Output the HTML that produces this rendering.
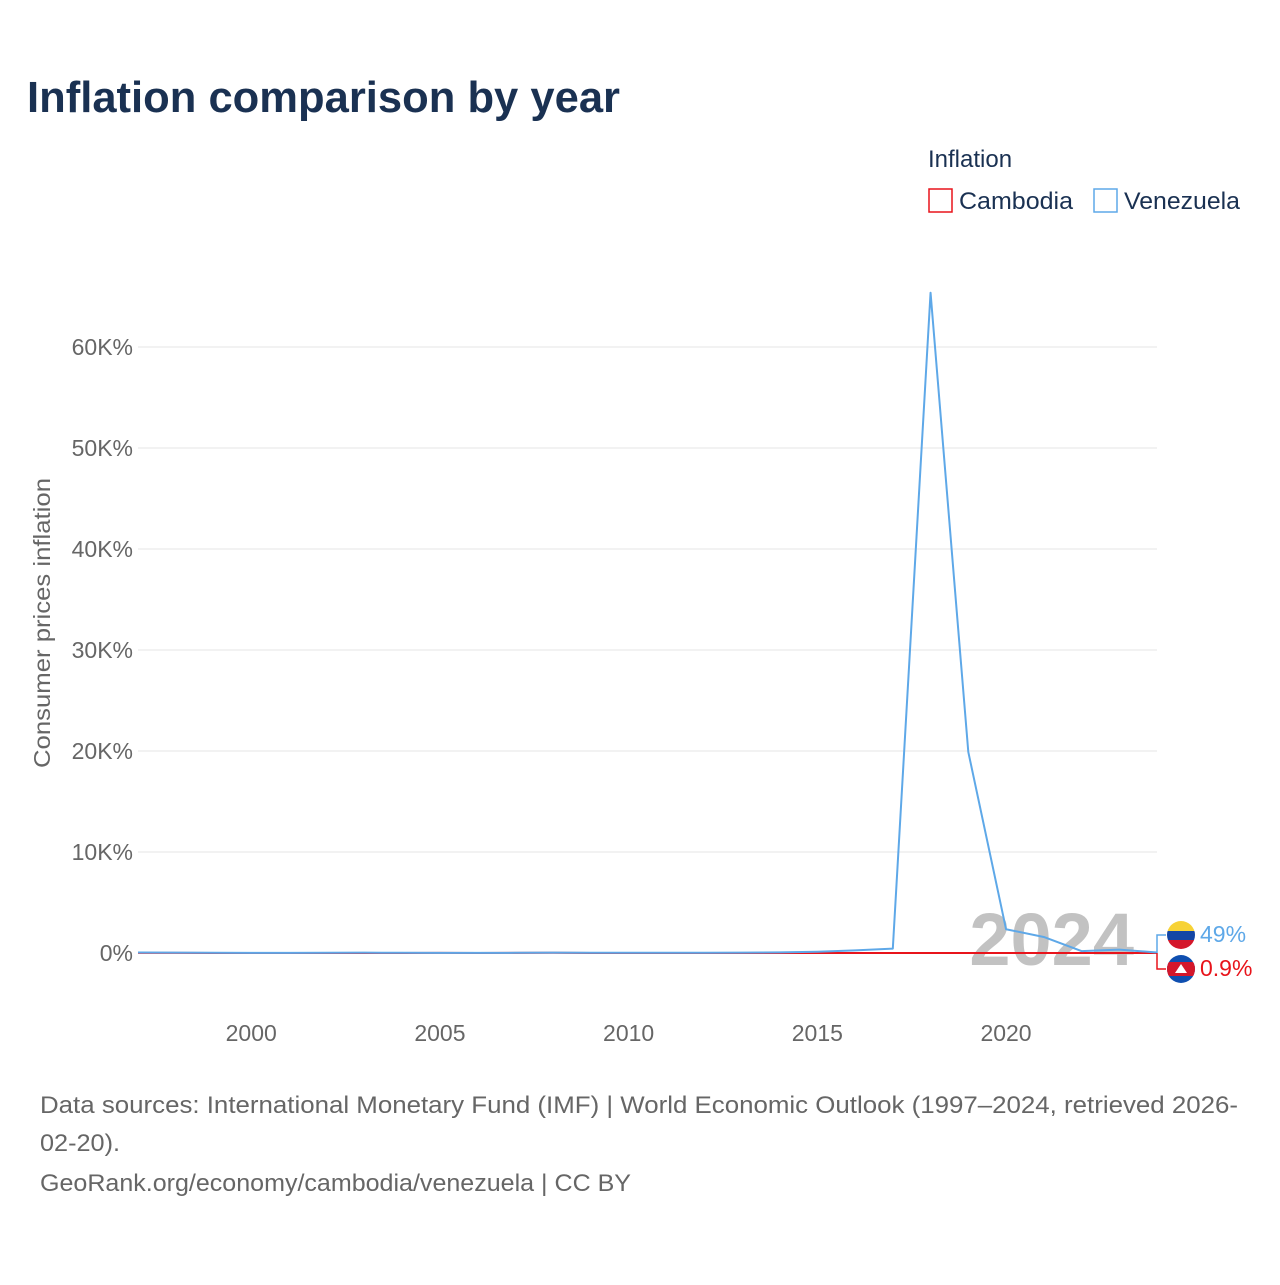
<!DOCTYPE html>
<html><head><meta charset="utf-8"><style>
body{margin:0;background:#fff;font-family:"Liberation Sans",sans-serif;}
</style></head><body>
<svg width="1280" height="1280" xmlns="http://www.w3.org/2000/svg" font-family="Liberation Sans, sans-serif">
<rect width="1280" height="1280" fill="#fff"/>
<text x="27" y="112" font-size="44" font-weight="bold" fill="#1a3152" textLength="593" lengthAdjust="spacingAndGlyphs">Inflation comparison by year</text>
<text x="928" y="167" font-size="24" fill="#1a3152">Inflation</text>
<g><rect x="929" y="189" width="23" height="23" fill="none" stroke="#e8141b" stroke-width="1.5"/><text x="959" y="209" font-size="24" fill="#1a3152" textLength="114" lengthAdjust="spacingAndGlyphs">Cambodia</text></g>
<g><rect x="1094" y="189" width="23" height="23" fill="none" stroke="#5ea8e8" stroke-width="1.5"/><text x="1124" y="209" font-size="24" fill="#1a3152" textLength="116" lengthAdjust="spacingAndGlyphs">Venezuela</text></g>
<g id="grid"></g>
<text x="50" y="623" font-size="23" fill="#666" transform="rotate(-90 50 623)" text-anchor="middle" textLength="290" lengthAdjust="spacingAndGlyphs">Consumer prices inflation</text>
<text x="1134" y="965" font-size="74" font-weight="bold" fill="#c2c2c2" text-anchor="end">2024</text>
<g id="series"></g>
<g>
<path d="M1157 953 H1157 V935 H1166" fill="none" stroke="#5ea8e8" stroke-width="1.5"/>
<path d="M1157 953 V969 H1166" fill="none" stroke="#e8141b" stroke-width="1.5"/>
<g><clipPath id="cv"><circle cx="1181" cy="935" r="14"/></clipPath><g clip-path="url(#cv)"><rect x="1167" y="921" width="28" height="10" fill="#f7d236"/><rect x="1167" y="931" width="28" height="9" fill="#1346a5"/><rect x="1167" y="940" width="28" height="10" fill="#d4172b"/></g></g>
<g><clipPath id="cc"><circle cx="1181" cy="969" r="14"/></clipPath><g clip-path="url(#cc)"><rect x="1167" y="955" width="28" height="28" fill="#0f4fb0"/><rect x="1167" y="962" width="28" height="14" fill="#d4172b"/><path d="M1175 973 L1181 964 L1187 973Z" fill="#fff"/></g></g>
<text x="1200" y="942" font-size="23" fill="#5ea8e8">49%</text>
<text x="1200" y="976" font-size="23" fill="#e8141b">0.9%</text>
</g>
<text x="40" y="1113" font-size="24" fill="#666" textLength="1198" lengthAdjust="spacingAndGlyphs">Data sources: International Monetary Fund (IMF) | World Economic Outlook (1997–2024, retrieved 2026-</text>
<text x="40" y="1151" font-size="24" fill="#666" textLength="80" lengthAdjust="spacingAndGlyphs">02-20).</text>
<text x="40" y="1191" font-size="24" fill="#666" textLength="591" lengthAdjust="spacingAndGlyphs">GeoRank.org/economy/cambodia/venezuela | CC BY</text>
</svg>
<script>
const years=[1997,1998,1999,2000,2001,2002,2003,2004,2005,2006,2007,2008,2009,2010,2011,2012,2013,2014,2015,2016,2017,2018,2019,2020,2021,2022,2023,2024];
const venezuela=[50,35.8,23.6,16.2,12.5,22.4,31.1,21.7,16,13.7,18.7,31.4,26,28.2,26.1,21.1,40.6,62.2,121.7,254.9,438,65374,19906,2355,1588,186,337,49];
const cambodia=[9.1,14.8,4,-0.8,-0.6,3.2,1.2,3.9,6.3,6.1,7.7,25,-0.7,4,5.5,2.9,3,3.9,1.2,3,2.9,2.5,1.9,2.9,2.9,5.3,2.1,0.9];
const yTicks=[0,10000,20000,30000,40000,50000,60000];
const yTickLabels=["0%","10K%","20K%","30K%","40K%","50K%","60K%"];
const xTicks=[2000,2005,2010,2015,2020];
const NS="http://www.w3.org/2000/svg";
const X=y=>138+(y-1997)*(1157-138)/27;
const Y=v=>953-v*(953-347)/60000;
const grid=document.getElementById('grid'),ser=document.getElementById('series');
yTicks.forEach((t,i)=>{
 const l=document.createElementNS(NS,'line');
 l.setAttribute('x1',138);l.setAttribute('x2',1157);l.setAttribute('y1',Y(t));l.setAttribute('y2',Y(t));
 l.setAttribute('stroke','#e6e6e6');l.setAttribute('stroke-width','1');
 
 
 grid.appendChild(l);
 const tx=document.createElementNS(NS,'text');
 tx.setAttribute('x',133);tx.setAttribute('y',Y(t)+8);tx.setAttribute('text-anchor','end');
 tx.setAttribute('font-size','23');tx.setAttribute('fill','#666');tx.textContent=yTickLabels[i];
 
 
 grid.appendChild(tx);
});
xTicks.forEach(t=>{
 const tx=document.createElementNS(NS,'text');
 tx.setAttribute('x',X(t));tx.setAttribute('y',1041);tx.setAttribute('text-anchor','middle');
 tx.setAttribute('font-size','23');tx.setAttribute('fill','#666');tx.textContent=t;
 
 
 grid.appendChild(tx);
});
function line(vals,color,name){
 const p=document.createElementNS(NS,'polyline');
 p.setAttribute('points',vals.map((v,i)=>X(years[i])+','+Y(v)).join(' '));
 p.setAttribute('fill','none');p.setAttribute('stroke',color);p.setAttribute('stroke-width','2');
 p.setAttribute('stroke-linejoin','round');
 
 
 ser.appendChild(p);
}
line(cambodia,'#e8141b','cambodia-line');
line(venezuela,'#5ea8e8','venezuela-line');
</script>
</body></html>
